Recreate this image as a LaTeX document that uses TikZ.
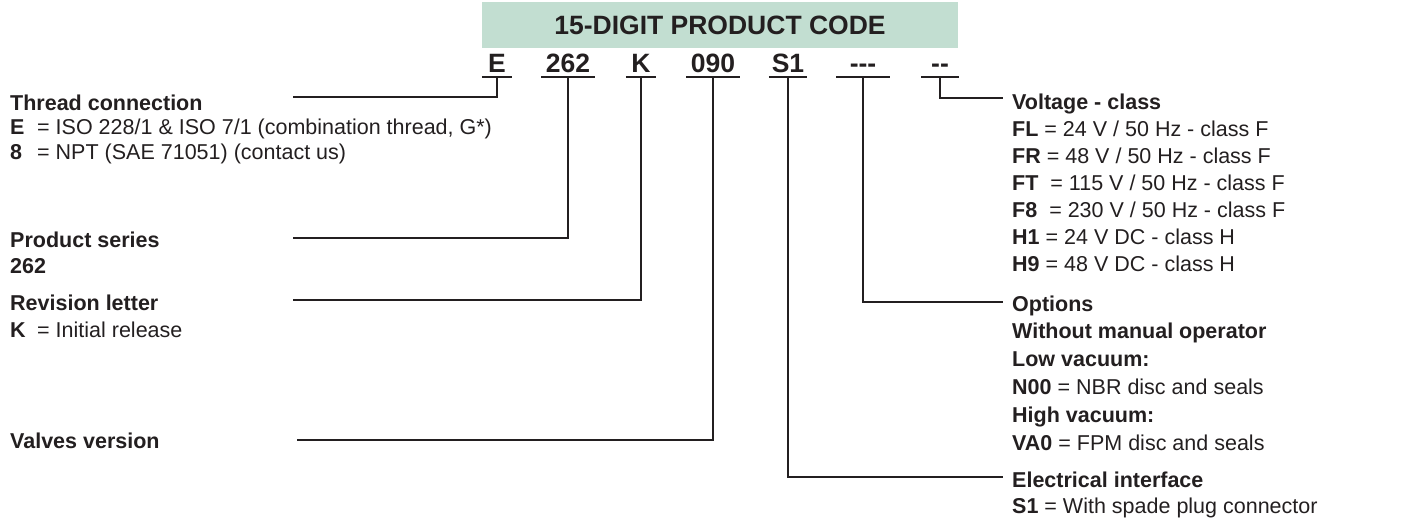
\documentclass[tikz,border=0pt]{standalone}
\usepackage{fontspec}
\setmainfont{Liberation Sans}
\definecolor{ink}{RGB}{35,31,32}
\definecolor{codegreen}{RGB}{194,222,209}

\begin{document}
\begin{tikzpicture}[x=1pt, y=-1pt,
  code/.style={font=\fontsize{26.5}{30}\selectfont\bfseries, text=ink, anchor=base, inner xsep=0pt, inner ysep=4pt, text depth=0pt},
  desc/.style={font=\fontsize{21.5}{27}\selectfont, text=ink, align=left, anchor=base west, inner sep=0pt},
  link/.style={draw=ink, line width=1.2pt},
  uline/.style={draw=ink, line width=1.8pt}]
\useasboundingbox (0,0) rectangle (1410,519);

\node[fill=codegreen, minimum width=476pt, minimum height=46pt, font=\fontsize{26.5}{30}\selectfont\bfseries, text=ink] (title) at (720,25) {15-DIGIT PRODUCT CODE};

\node[code, minimum width=30pt] (cE) at (497,73) {E};
\node[code, minimum width=53pt] (c262) at (568,73) {262};
\node[code, minimum width=30pt] (cK) at (641,73) {K};
\node[code, minimum width=53pt] (c090) at (713,73) {090};
\node[code, minimum width=38pt] (cS1) at (788,73) {S1};
\node[code, minimum width=53pt] (cOpt) at (863,73) {{-}{-}{-}};
\node[code, minimum width=37pt] (cVolt) at (940,73) {{-}{-}};
\draw[uline] (cE.south west) -- (cE.south east);
\draw[uline] (c262.south west) -- (c262.south east);
\draw[uline] (cK.south west) -- (cK.south east);
\draw[uline] (c090.south west) -- (c090.south east);
\draw[uline] (cS1.south west) -- (cS1.south east);
\draw[uline] (cOpt.south west) -- (cOpt.south east);
\draw[uline] (cVolt.south west) -- (cVolt.south east);

% left column (nodes sit on the baseline of their last line)
\node[desc, font=\fontsize{21.5}{24.5}\selectfont] (dThread) at (10,159) {\textbf{Thread connection}\\
  \makebox[27pt][l]{\textbf{E}}= ISO 228/1 \& ISO 7/1 (combination thread, G*)\\
  \makebox[27pt][l]{\textbf{8}}= NPT (SAE 71051) (contact us)};
\node[desc, font=\fontsize{21.5}{26}\selectfont] (dSeries) at (10,273) {\textbf{Product series}\\ \textbf{262}};
\node[desc] (dRev) at (10,337) {\textbf{Revision letter}\\
  \makebox[27pt][l]{\textbf{K}}= Initial release};
\node[desc] (dValves) at (10,448) {\textbf{Valves version}};

% right column
\node[desc] (dVolt) at (1012,271) {\textbf{Voltage - class}\\
  \textbf{FL} = 24 V / 50 Hz - class F\\
  \textbf{FR} = 48 V / 50 Hz - class F\\
  \textbf{FT} \ = 115 V / 50 Hz - class F\\
  \textbf{F8} \ = 230 V / 50 Hz - class F\\
  \textbf{H1} = 24 V DC - class H\\
  \textbf{H9} = 48 V DC - class H};
\node[desc, font=\fontsize{21.5}{27.8}\selectfont] (dOpt) at (1012,450) {\textbf{Options}\\
  \textbf{Without manual operator}\\
  \textbf{Low vacuum:}\\
  \textbf{N00} = NBR disc and seals\\
  \textbf{High vacuum:}\\
  \textbf{VA0} = FPM disc and seals};
\node[desc, font=\fontsize{21.5}{26}\selectfont] (dElec) at (1012,513) {\textbf{Electrical interface}\\
  \textbf{S1} = With spade plug connector};

% free ends of the leader lines
\coordinate (eThread) at (293,97);
\coordinate (eSeries) at (293,238);
\coordinate (eRev) at (293,300);
\coordinate (eValves) at (297,440);
\coordinate (eVolt) at (1003,98);
\coordinate (eOpt) at (1003,302);
\coordinate (eElec) at (1003,477);

\draw[link] (cE.south) |- (eThread);
\draw[link] (c262.south) |- (eSeries);
\draw[link] (cK.south) |- (eRev);
\draw[link] (c090.south) |- (eValves);
\draw[link] (cS1.south) |- (eElec);
\draw[link] (cOpt.south) |- (eOpt);
\draw[link] (cVolt.south) |- (eVolt);
\end{tikzpicture}
\end{document}
